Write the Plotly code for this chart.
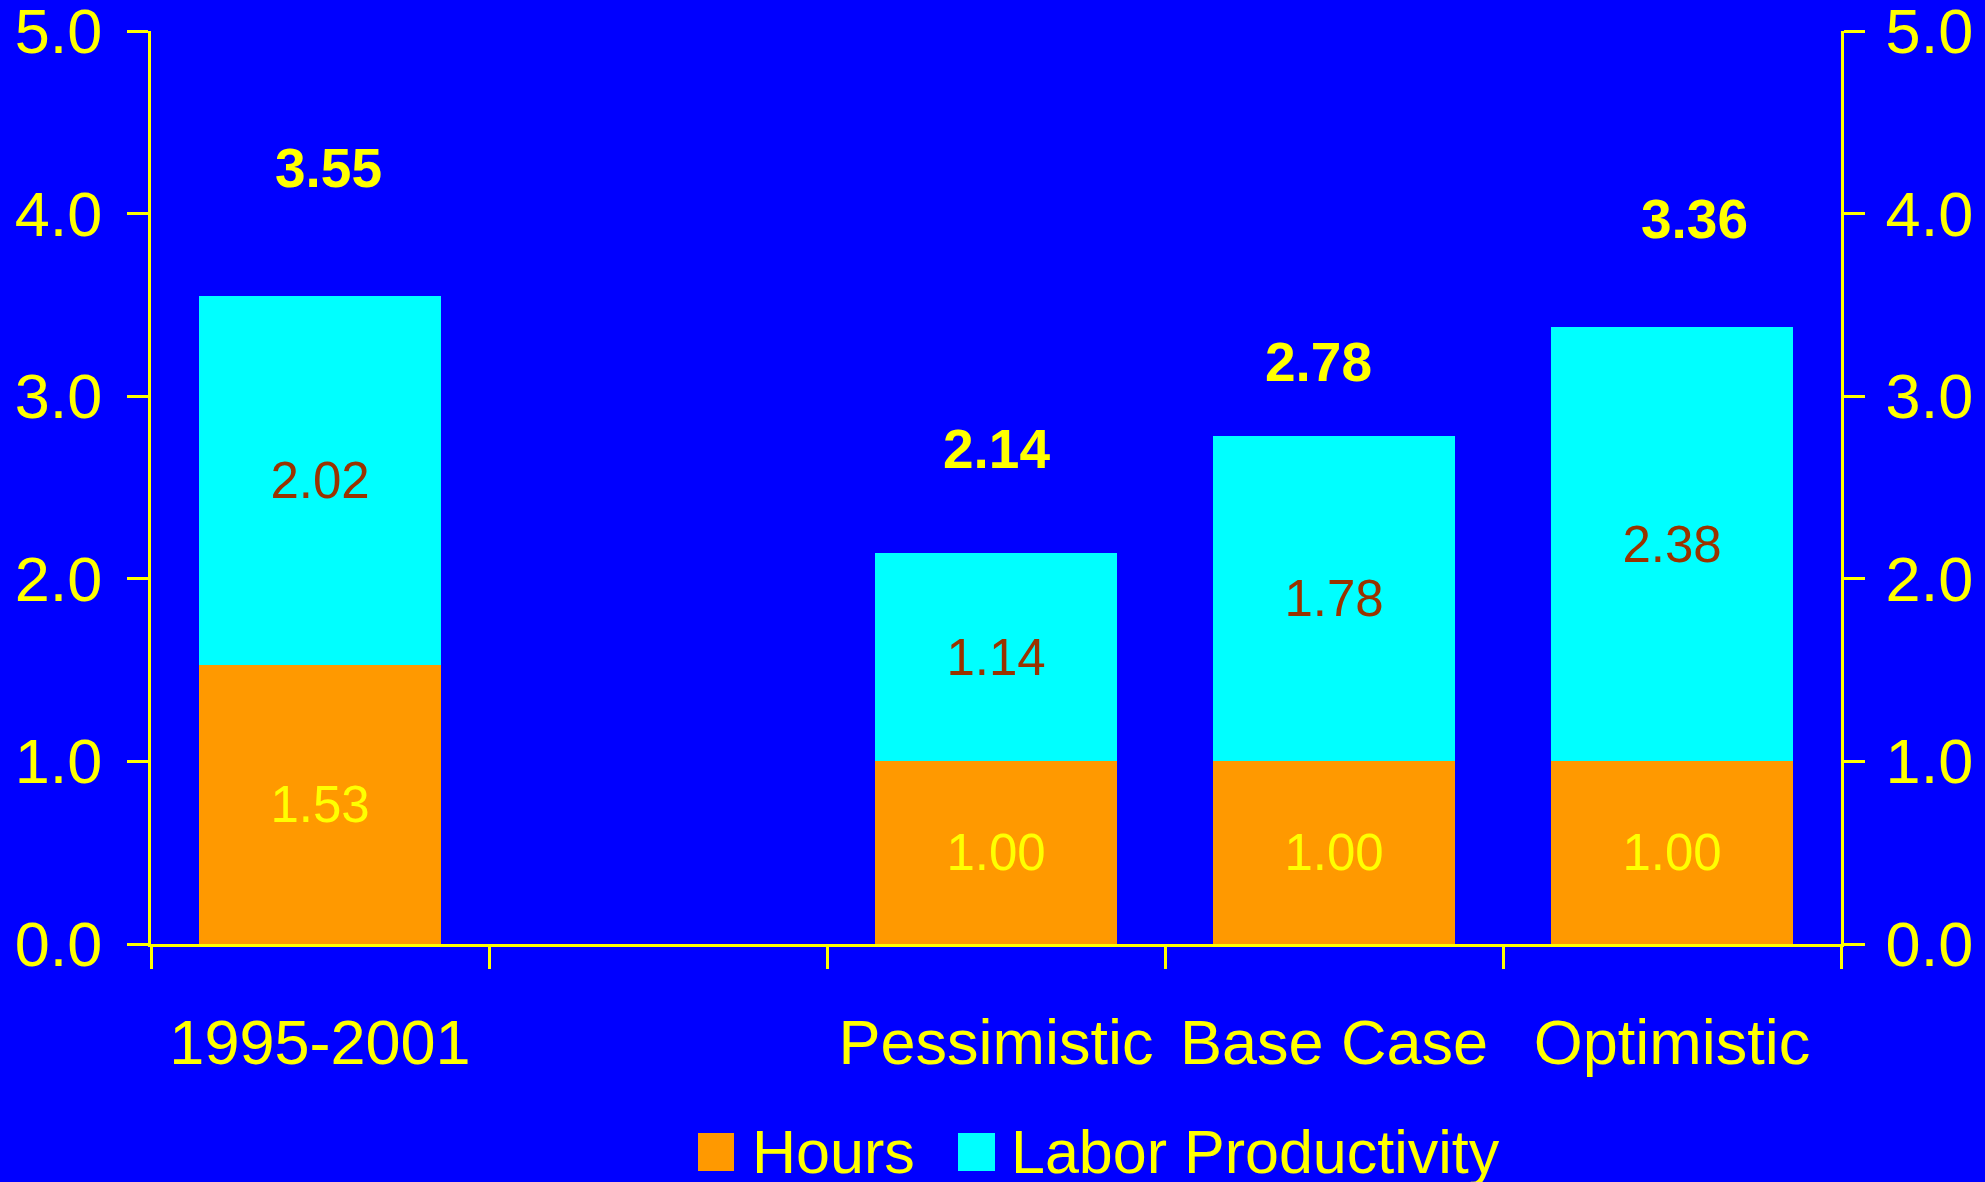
import plotly.graph_objects as go

# ---- data ----
categories = ["1995-2001", " ", "Pessimistic", "Base Case", "Optimistic"]
hours = [1.53, None, 1.00, 1.00, 1.00]
labor_productivity = [2.02, None, 1.14, 1.78, 2.38]
totals = [3.55, None, 2.14, 2.78, 3.36]
series_names = ["Hours", "Labor Productivity"]
y_ticks = [0, 1, 2, 3, 4, 5]

# ---- style ----
BG = "#0000FF"
YELLOW = "#FFFF00"
ORANGE = "#FF9900"
CYAN = "#00FFFF"
BROWN = "#993300"
W, H = 1985, 1182
ML, MR, MT, MB = 151, 144, 31, 238
total_label_y = [4.25, None, 2.71, 3.19, 3.97]
total_label_xshift = [8, 0, 0, -16, 22]
SANS = "Liberation Sans, Arial, sans-serif"

fig = go.Figure()
fig.add_trace(go.Bar(
    x=categories, y=hours, name=series_names[0], marker=dict(color=ORANGE, line=dict(width=0)),
    texttemplate="%{y:.2f}", textposition="inside", insidetextanchor="middle",
    textfont=dict(color=YELLOW, size=51, family=SANS), showlegend=False,
))
fig.add_trace(go.Bar(
    x=categories, y=labor_productivity, name=series_names[1], marker=dict(color=CYAN, line=dict(width=0)),
    texttemplate="%{y:.2f}", textposition="inside", insidetextanchor="middle",
    textfont=dict(color=BROWN, size=51, family=SANS), showlegend=False,
))
# invisible trace for right axis
fig.add_trace(go.Scatter(x=categories, y=[None] * len(categories), yaxis="y2",
                         showlegend=False, hoverinfo="skip"))

for c, t, ly, xs in zip(categories, totals, total_label_y, total_label_xshift):
    if t is None:
        continue
    fig.add_annotation(x=c, y=ly, text=f"<b>{t:.2f}</b>", showarrow=False, xshift=xs,
                       font=dict(color=YELLOW, size=55, family=SANS),
                       xanchor="center", yanchor="middle")

# custom legend (large swatches)
pw = W - ML - MR
ph = H - MT - MB
def px_x(v):
    return (v - ML) / pw
def px_y(v):
    return (H - MB - v) / ph

legend_items = [
    (ORANGE, series_names[0], 698, 734, 750),
    (CYAN, series_names[1], 958, 995, 1009),
]
for col, name, x0, x1, tx in legend_items:
    fig.add_shape(type="rect", xref="paper", yref="paper",
                  x0=px_x(x0), x1=px_x(x1), y0=px_y(1171), y1=px_y(1133),
                  fillcolor=col, line=dict(width=0))
    fig.add_annotation(xref="paper", yref="paper", x=px_x(tx), y=px_y(1152),
                       text=name, showarrow=False, xanchor="left", yanchor="middle",
                       font=dict(color=YELLOW, size=61, family=SANS))

axis_common = dict(range=[0, 5.0001], tickvals=y_ticks, tickformat=".1f",
                   showgrid=False, zeroline=False, showline=True,
                   linecolor=YELLOW, linewidth=3, ticks="outside", ticklen=21,
                   tickwidth=3, tickcolor=YELLOW, automargin=False,
                   ticklabeloverflow="allow",
                   tickfont=dict(color=YELLOW, size=63, family=SANS))

fig.update_layout(
    width=W, height=H,
    paper_bgcolor=BG, plot_bgcolor=BG,
    margin=dict(l=ML, r=MR, t=MT, b=MB, pad=0, autoexpand=False),
    barmode="stack", bargap=0.284,
    xaxis=dict(type="category", categoryorder="array", categoryarray=categories,
               tickson="boundaries", ticks="outside", ticklen=22, tickwidth=3,
               tickcolor=YELLOW, showline=True, linecolor=YELLOW, linewidth=3,
               showgrid=False, zeroline=False, tickangle=0, automargin=False,
               tickfont=dict(color=YELLOW, size=63, family=SANS),
               ticklabelstandoff=41),
    yaxis=dict(side="left", ticklabelstandoff=12, **axis_common),
    yaxis2=dict(side="right", overlaying="y", ticklabelstandoff=8, **axis_common),
    showlegend=False,
)

fig.write_html("out.html")
